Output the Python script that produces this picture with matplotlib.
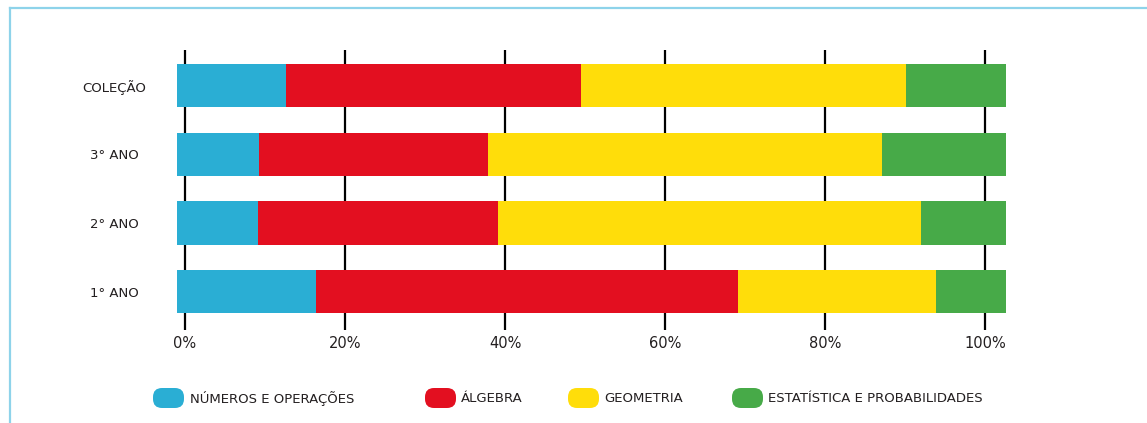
import matplotlib
matplotlib.use("Agg")
import matplotlib.pyplot as plt
from matplotlib.patches import FancyBboxPatch
from matplotlib.lines import Line2D
import numpy as np

# ---------------- data ----------------
categories = ["1° ANO", "2° ANO", "3° ANO", "COLEÇÃO"]
series_names = ["NÚMEROS E OPERAÇÕES", "ÁLGEBRA", "GEOMETRIA",
                "ESTATÍSTICA E PROBABILIDADES"]
numeros = [16.7, 9.7, 9.9, 13.1]
algebra = [51.0, 29.0, 27.6, 35.6]
geometria = [23.8, 51.1, 47.5, 39.2]
estatistica = [8.5, 10.2, 15.0, 12.1]
tick_values = [0, 20, 40, 60, 80, 100]
tick_labels = ["0%", "20%", "40%", "60%", "80%", "100%"]

# ---------------- style / layout ----------------
colors = ["#2AAED4", "#E30F20", "#FFDD0A", "#47AA48"]
text_color = "#231F20"
W, H = 1147, 423
fig = plt.figure(figsize=(W / 100, H / 100), dpi=100)

ax_left_px, ax_right_px = 177.3, 1006.0
ax_top_px, ax_bot_px = 50.0, 330.0
ax = fig.add_axes([ax_left_px / W, 1 - ax_bot_px / H,
                   (ax_right_px - ax_left_px) / W, (ax_bot_px - ax_top_px) / H])

# tick scale: 0% gridline at 185px, 8px per percent
tick_offset = (185.0 - ax_left_px) / (ax_right_px - ax_left_px) * 100
tick_scale = 8.0 / ((ax_right_px - ax_left_px) / 100)

series = [numeros, algebra, geometria, estatistica]
y = np.arange(len(categories))
left = np.zeros(len(categories))
for vals, c in zip(series, colors):
    ax.barh(y, vals, left=left, height=0.634, color=c, edgecolor="none", zorder=3)
    left += np.array(vals)

ax.set_xlim(0, 100)
ax.set_ylim(-0.558, 3.52)
ax.set_xticks([tick_offset + tick_scale * t for t in tick_values])
ax.set_xticklabels(tick_labels)
ax.set_yticks(y)
ax.set_yticklabels(categories)
ax.grid(axis="x", color="black", linewidth=1.6, zorder=0)
ax.grid(axis="y", visible=False)
for s in ax.spines.values():
    s.set_visible(False)
ax.tick_params(axis="x", length=0, pad=4, labelsize=10.5, labelcolor=text_color)
ax.tick_params(axis="y", length=0, pad=45.5, labelsize=9.5, labelcolor=text_color)
for lab in ax.get_yticklabels():
    lab.set_horizontalalignment("center")
ax.set_facecolor("white")

# legend (manual, pill-shaped swatches)
leg_patch_x = [153, 425, 568, 732]
leg_text_x = [190, 461, 604, 768]
leg_y_top, leg_y_bot = 388, 408
rpx = 9
for name, c, px, tx in zip(series_names, colors, leg_patch_x, leg_text_x):
    p = FancyBboxPatch((px / W, 1 - leg_y_bot / H), 31 / W, (leg_y_bot - leg_y_top) / H,
                       boxstyle=f"round,pad=0,rounding_size={rpx / W}",
                       mutation_aspect=W / H, transform=fig.transFigure,
                       facecolor=c, edgecolor="none")
    fig.add_artist(p)
    fig.text(tx / W, 1 - 398 / H, name, fontsize=9.5, color=text_color,
             ha="left", va="center")

# light blue frame (top and left)
frame_c = "#8ED3EA"
fig.add_artist(Line2D([10 / W, 1], [1 - 8 / H, 1 - 8 / H], color=frame_c,
                      linewidth=1.6, transform=fig.transFigure))
fig.add_artist(Line2D([10 / W, 10 / W], [0, 1 - 8 / H], color=frame_c,
                      linewidth=1.6, transform=fig.transFigure))

fig.savefig("out.png", dpi=100, facecolor="white")
